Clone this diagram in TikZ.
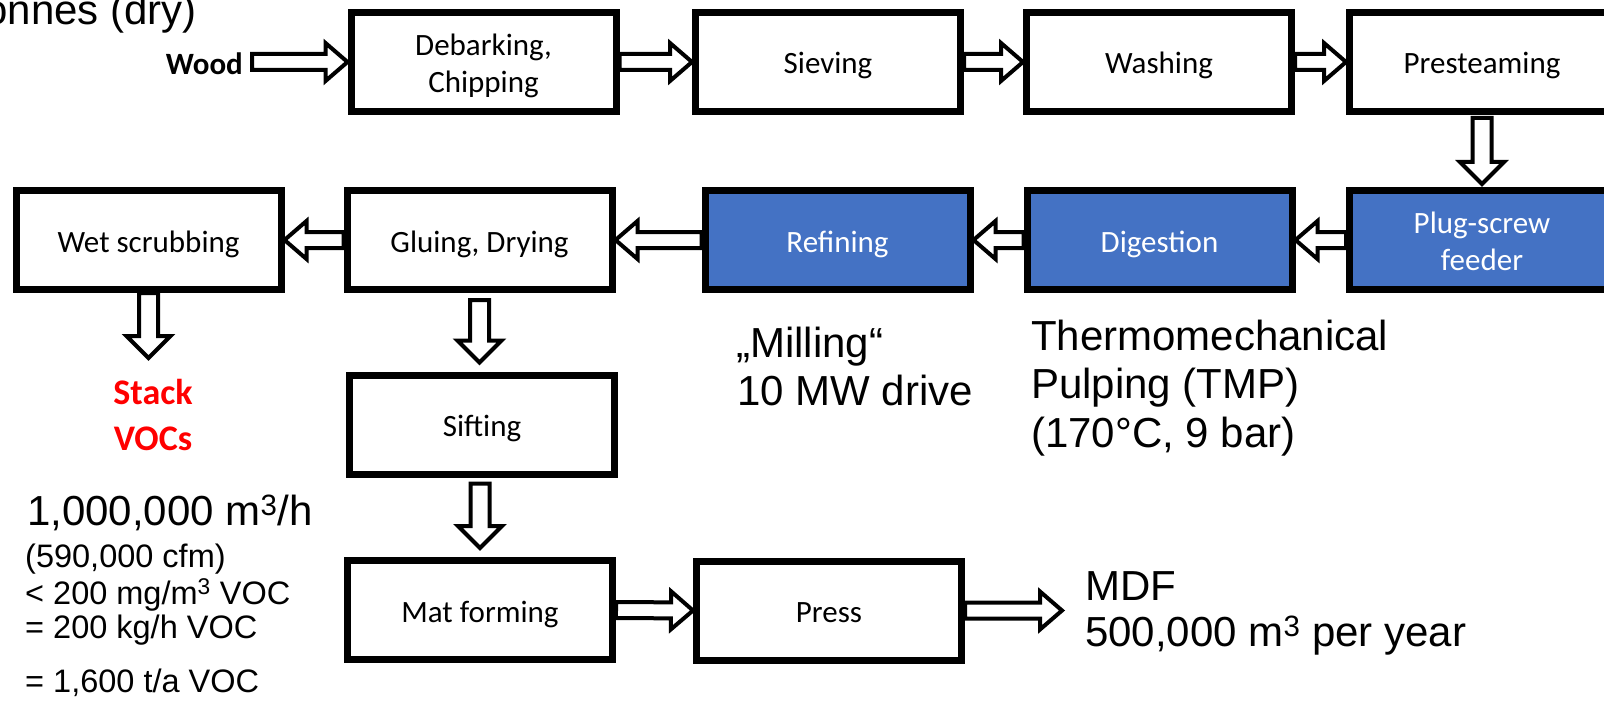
\documentclass[tikz,border=0pt]{standalone}
\usepackage{fontspec}
\setmainfont{Liberation Sans}
\newfontfamily\calfont{Carlito}
\usetikzlibrary{calc}
\definecolor{boxblue}{HTML}{4472C4}
\definecolor{stackred}{HTML}{FF0000}
\newcommand{\blockarrow}[5]{%
  \coordinate (baS) at #1;
  \coordinate (baT) at #2;
  \coordinate (baH) at ($(baT)!#5!(baS)$);
  \draw[barrow] ($(baS)!#3!90:(baT)$) -- ($(baH)!#3!-90:(baS)$) -- ($(baH)!#4!-90:(baS)$)
     -- (baT) -- ($(baH)!#4!90:(baS)$) -- ($(baH)!#3!90:(baS)$) -- ($(baS)!#3!-90:(baT)$) -- cycle;
}
\newcommand{\hblock}[2]{\blockarrow{#1}{#2}{8pt}{19pt}{22pt}}
\newcommand{\vblock}[2]{\blockarrow{#1}{#2}{9.5pt}{22pt}{22pt}}
\newcommand{\onestrut}{\rule[-7pt]{0pt}{38pt}}
\newcommand{\topstrut}{\rule{0pt}{33pt}}
\newcommand{\botstrut}{\rule[-9pt]{0pt}{9pt}}
\begin{document}
\begin{tikzpicture}[x=1pt,y=-1pt,
  box/.style={draw=black, line width=7pt, fill=white, minimum width=265pt, minimum height=99pt,
    inner sep=0pt, align=center, font=\calfont\fontsize{31}{37}\selectfont},
  bluebox/.style={box, fill=boxblue, text=white},
  barrow/.style={draw=black, line width=4pt, fill=white, line join=miter},
  lbl/.style={inner sep=0pt, anchor=base west, font=\fontsize{42}{49}\selectfont},
  stat/.style={inner sep=0pt, anchor=base west, font=\fontsize{32.5}{36}\selectfont},
  redlbl/.style={inner sep=0pt, anchor=base, text=stackred, font=\calfont\bfseries\fontsize{36}{46}\selectfont},
]
\useasboundingbox (0,0) rectangle (1604,706);
% boxes
\node[box] (deb) at (483.5,62) {\topstrut Debarking,\\Chipping\botstrut};
\node[box] (sie) at (828,62) {\onestrut Sieving};
\node[box] (was) at (1159,62) {\onestrut Washing};
\node[box] (pre) at (1482,62) {\onestrut Presteaming};
\node[box] (wet) at (148.5,240) {\onestrut Wet scrubbing};
\node[box] (glu) at (479.5,240) {\onestrut Gluing, Drying};
\node[bluebox] (ref) at (837.5,240) {\onestrut Refining};
\node[bluebox] (dig) at (1159.5,240) {\onestrut Digestion};
\node[bluebox] (plu) at (1482,240) {\topstrut Plug-screw\\feeder\botstrut};
\node[box] (sif) at (482,424.5) {\onestrut Sifting};
\node[box] (mat) at (480,610) {\onestrut Mat forming};
\node[box] (prs) at (829,610.5) {\onestrut Press};
% texts
\node[inner sep=0pt, anchor=base east, font=\fontsize{42}{49}\selectfont] (dry) at (197,25) {onnes (dry)};
\node[inner sep=0pt, anchor=base east, font=\calfont\bfseries\fontsize{31}{36}\selectfont] (wood) at (243,75) {Wood};
\node[redlbl] (stk1) at (153,404) {Stack};
\node[redlbl] (stk2) at (153,450) {VOCs};
\node[lbl] (flow) at (27,525) {1,000,000 m\textsuperscript{3}/h};
\node[stat] (cfm) at (25,567) {(590,000 cfm)};
\node[stat] (conc) at (25,604) {< 200 mg/m\textsuperscript{3} VOC};
\node[stat] (kgh) at (25,638) {= 200 kg/h VOC};
\node[stat] (tpa) at (25,692) {= 1,600 t/a VOC};
\node[lbl] (mil1) at (736,357) {„Milling“};
\node[lbl] (mil2) at (737,405) {10 MW drive};
\node[lbl] (tmp1) at (1031,350) {Thermomechanical};
\node[lbl] (tmp2) at (1031,398) {Pulping (TMP)};
\node[lbl] (tmp3) at (1031,447) {(170°C, 9 bar)};
\node[lbl] (mdf1) at (1085,600) {MDF};
\node[lbl] (mdf2) at (1085,646) {500,000 m\textsuperscript{3} per year};
% free ends
\coordinate (woodend) at (252,62);
\coordinate (mdfend) at (1062,610.5);
% arrows
\hblock{(woodend)}{(deb.west)}
\hblock{(deb.east)}{(sie.west)}
\hblock{(sie.east)}{(was.west)}
\hblock{(was.east)}{(pre.west)}
\vblock{($(pre.south)+(0,3)$)}{($(plu.north)+(0,-3)$)}
\hblock{(plu.west)}{(dig.east)}
\hblock{(dig.west)}{(ref.east)}
\hblock{(ref.west)}{(glu.east)}
\hblock{(glu.west)}{(wet.east)}
\vblock{(wet.south)}{($(wet.south)+(0,65)$)}
\vblock{($(glu.south)+(0,7)$)}{($(glu.south |- sif.north)+(0,-9)$)}
\vblock{($(mat.north |- sif.south)+(0,6)$)}{($(mat.north)+(0,-9)$)}
\hblock{(mat.east)}{(prs.west)}
\hblock{(prs.east)}{(mdfend)}
\end{tikzpicture}
\end{document}
